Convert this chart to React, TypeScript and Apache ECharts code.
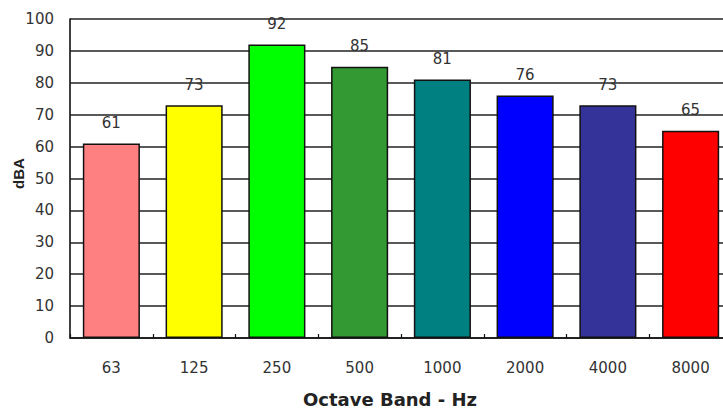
import React, { useEffect, useRef } from "react";
import * as echarts from "echarts";

const categories = ["63", "125", "250", "500", "1000", "2000", "4000", "8000"];
const values = [61, 73, 92, 85, 81, 76, 73, 65];
const barColors = ["#FF8080", "#FFFF00", "#00FF00", "#339933", "#008080", "#0000FF", "#333399", "#FF0000"];
const yTicks = { min: 0, max: 100, interval: 10 };

const FONT = "'DejaVu Sans', Arial, sans-serif";
const FONT_ARIAL = "Arial, 'Liberation Sans', Helvetica, sans-serif";

export default function App() {
  const ref = useRef<HTMLDivElement>(null);
  useEffect(() => {
    if (!ref.current) return;
    const chart = echarts.init(ref.current, undefined, { renderer: "svg" });
    chart.setOption({
      animation: false,
      backgroundColor: "#ffffff",
      grid: { left: 70, top: 19, bottom: 74, right: -9, containLabel: false, outerBoundsMode: "none" },
      xAxis: {
        type: "category",
        data: categories,
        name: "Octave Band - Hz",
        nameLocation: "middle",
        nameGap: 52,
        nameMoveOverlap: false,
        nameTextStyle: { fontFamily: FONT, fontSize: 18, fontWeight: "bold", color: "#222", padding: [0, 22, 0, 0] },
        axisLine: { show: true, lineStyle: { color: "#111", width: 1.6 } },
        axisTick: { show: true, inside: true, length: 4, lineStyle: { color: "#111", width: 1.2 } },
        axisLabel: { fontFamily: FONT, fontSize: 15, color: "#333", margin: 22 },
      },
      yAxis: {
        type: "value",
        min: yTicks.min,
        max: yTicks.max,
        interval: yTicks.interval,
        name: "dBA",
        nameLocation: "middle",
        nameGap: 44,
        nameRotate: 90,
        nameMoveOverlap: false,
        nameTextStyle: { fontFamily: FONT_ARIAL, fontSize: 15, fontWeight: "bold", color: "#222", padding: [0, 0, 0, 10] },
        axisLine: { show: true, lineStyle: { color: "#111", width: 1.6 } },
        axisTick: { show: false },
        splitLine: { show: true, lineStyle: { color: "#222", width: 1.5 } },
        axisLabel: { fontFamily: FONT, fontSize: 15, color: "#333", margin: 16 },
      },
      series: [
        {
          type: "bar",
          data: values.map((v, i) => ({
            value: v,
            itemStyle: { color: barColors[i] },
          })),
          barCategoryGap: "31%",
          itemStyle: { borderColor: "#111", borderWidth: 1.5 },
          label: {
            show: true,
            position: "top",
            distance: 13,
            fontFamily: FONT,
            fontSize: 15,
            color: "#333",
          },
        },
      ],
    });
    return () => chart.dispose();
  }, []);
  return (
    <div
      ref={ref}
      style={{ position: "fixed", left: 0, top: 0, width: 723, height: 412, background: "#fff" }}
    />
  );
}
